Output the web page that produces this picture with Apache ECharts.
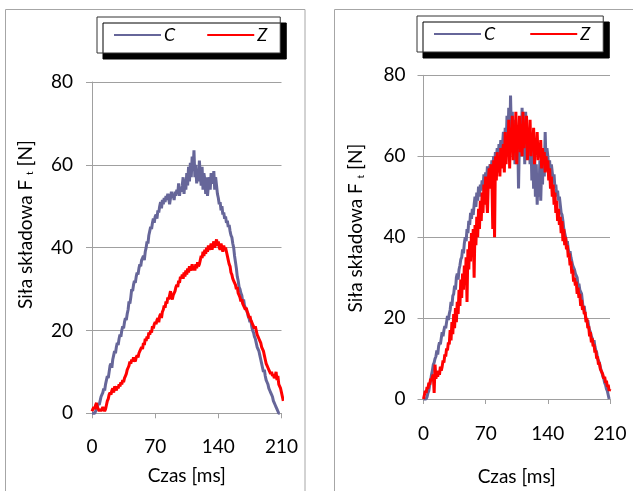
<!DOCTYPE html>
<html>
<head>
<meta charset="utf-8">
<script src="https://cdn.jsdelivr.net/npm/echarts@6/dist/echarts.min.js"></script>
<style>
  html, body { margin: 0; padding: 0; background: #fff; }
  #chart { width: 633px; height: 491px; }
</style>
</head>
<body>
<div id="chart"></div>
<script>
// Sampling interval of the force recordings, in milliseconds
const SAMPLE_STEP_MS = 1;

const seriesNames = ['C', 'Z'];
const xTitle = 'Czas [ms]';

// Left panel: force component F_t [N], one value per millisecond
const leftC = [
  0, 0, 0, 0, 0.5, 1, 1.5, 2.5, 2, 3,
  4, 4.5, 5, 6, 5.5, 7, 8, 9, 8.5, 10,
  11.5, 12, 11, 13, 14, 15, 14.5, 16, 17, 16.5,
  18, 19, 18.5, 20, 21, 20.5, 22, 23, 22.5, 24,
  25, 27, 26.5, 28, 30, 29.5, 31, 32, 31.5, 33,
  34, 33.5, 35, 36, 35.5, 37, 37.5, 38, 37, 39,
  40, 41.5, 41, 43, 44, 45, 44.5, 46, 47, 46,
  47.5, 48, 47, 49, 48.5, 50, 51, 49.5, 51.5, 50.5,
  52, 51, 52.5, 51.5, 53, 52, 50.5, 52, 53.5, 52,
  53, 51.5, 53.5, 52.5, 54, 53, 55.5, 52.5, 54.5, 53.5,
  55, 57, 53, 56.5, 54, 58, 55, 59.5, 56, 60.5,
  57, 62, 58.5, 63.5, 57, 60, 55.5, 59, 56, 61,
  57.5, 55, 59.5, 54, 58, 56.5, 53, 57, 52.5, 55,
  57, 54, 58, 55.5, 56, 58.5, 54, 57, 55, 53,
  52, 50.5, 51, 49, 50, 48, 48.5, 47, 47.5, 46,
  46.5, 45, 45.5, 44, 43, 42.5, 41, 40, 38, 36.5,
  35, 33, 32, 30.5, 30, 29, 28.5, 27, 27.5, 26,
  26, 25, 24.5, 23.5, 23, 22, 22.5, 21, 20, 19.5,
  18.5, 18, 17, 16, 15.5, 15, 14, 13, 12, 11,
  10, 10.5, 9, 8, 7.5, 7, 6, 5.5, 5, 4.5,
  4, 3, 2.5, 2, 1.5, 1, 0.5, 0, 0
];
const leftZ = [
  0.5, 1, 1.5, 1, 2, 2.5, 1.5, 1, 0.5, 1,
  0.5, 1, 1.5, 1, 0.5, 1, 2, 3, 3.5, 4.5,
  5, 4.5, 5.5, 6, 5, 6.5, 6, 5.5, 6.5, 6,
  7, 6.5, 7.5, 7, 8, 7.5, 8.5, 9, 9.5, 10.5,
  11, 11.5, 12.5, 12, 13, 12.5, 13.5, 13, 12.5, 13.5,
  14, 13.5, 14.5, 15, 15.5, 16, 15.5, 17, 16.5, 18,
  17.5, 18.5, 18, 19.5, 19, 20, 19.5, 21, 20.5, 21.5,
  22, 21.5, 22.5, 23, 22, 23.5, 24, 23, 24.5, 25,
  26, 25.5, 27, 26.5, 28, 27.5, 28.5, 29.5, 28, 27.5,
  28.5, 29, 29.5, 30.5, 31, 30.5, 32, 31.5, 33, 32.5,
  33.5, 32.5, 34, 33, 34.5, 33.5, 35, 34, 35.5, 34.5,
  35, 36, 34.5, 35.5, 34.5, 36, 35, 36.5, 35.5, 36,
  37, 38, 37.5, 39, 38, 39.5, 38.5, 40, 39, 40.5,
  39.5, 40, 41, 39.5, 40.5, 41.5, 40, 41, 42, 40.5,
  41.5, 40, 39.5, 41, 40, 39, 40.5, 39.5, 40, 39,
  38, 37, 36, 35.5, 34, 33.5, 32.5, 32, 31.5, 31,
  30, 30.5, 29, 28.5, 28, 27, 27.5, 26.5, 26, 25.5,
  25, 25.5, 24.5, 24, 23, 23.5, 22.5, 22, 21.5, 21,
  20.5, 21, 20, 19, 18.5, 18, 17.5, 17, 16, 15.5,
  15, 14, 13, 12, 11.5, 11, 10.5, 10, 9.5, 10,
  9, 9.5, 8.5, 9, 10, 8, 9, 7, 6.5, 6,
  5, 4, 3
];

// Right panel: force component F_t [N], one value per millisecond
const rightC = [
  0, 0, 0, 0, 0.5, 1.5, 2, 3.5, 4.5, 6,
  7, 8.5, 9, 10, 10.5, 12, 11, 13, 14, 13.5,
  15, 16.5, 15.5, 17, 18, 17.5, 19, 20.5, 19.5, 21,
  22, 24, 23, 25.5, 26, 28, 27, 30, 31, 29.5,
  32, 33, 34.5, 35, 37, 36, 38.5, 40, 39, 42,
  41, 44, 43, 46, 44.5, 47, 45.5, 48, 50, 47.5,
  51, 49, 52.5, 50, 53, 51.5, 54, 52, 55.5, 53,
  56, 54, 57.5, 55, 56.5, 58, 55.5, 59, 57, 60,
  58, 61, 59, 62, 58.5, 63, 60, 64, 61.5, 63,
  66, 60, 67, 62, 70, 64, 72, 60, 75, 65,
  71, 62, 69, 58, 67, 63, 66, 52, 64, 68,
  60, 72, 63, 69, 58, 71, 62, 67, 60, 65,
  58, 64, 54, 60, 52, 62, 50, 58, 48, 55,
  50, 59, 49, 57, 53, 61, 55, 66, 58, 62,
  60, 57, 59, 55, 58, 56, 54, 55.5, 52, 53,
  50, 51.5, 49, 50, 48, 46, 45.5, 44, 42, 41,
  40, 38.5, 39, 37, 36, 36.5, 35, 34, 33, 32.5,
  32, 31, 30.5, 30, 28, 28.5, 27, 26.5, 26, 24,
  22, 23, 21, 20, 19, 19.5, 18, 17, 16.5, 15.5,
  15, 14, 14.5, 13, 12, 11.5, 10, 9.5, 9, 8,
  7, 6.5, 5.5, 5, 4, 3.5, 2.5, 2, 1, 0
];
const rightZ = [
  0, 1, 2, 1.5, 3, 2.5, 4, 3.5, 5, 4.5,
  5.5, 6, 1.5, 8.5, 5, 6.5, 5.5, 7, 6, 8,
  7, 8, 9.5, 9, 11, 10.5, 12.5, 12, 14, 13.5,
  17, 14.5, 19, 16, 21, 17.5, 22.5, 19, 24, 21,
  27, 23, 29.5, 25, 31, 27, 33, 29, 35, 24,
  37, 32, 39, 34, 41, 36, 42, 30, 43, 38,
  45, 40, 47, 42, 49, 44, 51, 46, 53, 48,
  55, 50, 46, 54, 57, 52, 58, 55, 42, 59,
  40, 60, 54, 61, 56, 60, 55, 62, 57, 61,
  63, 56, 66, 58, 64, 60, 69, 57, 67, 61,
  70, 59, 65, 62, 71, 58, 66, 63, 70, 61,
  68, 60, 71, 62, 67, 64, 70, 59, 66, 63,
  69, 60, 65, 62, 67, 58, 64, 61, 66, 59,
  63, 60, 64, 57, 62, 59, 61, 56, 60, 57,
  59, 54, 57, 52, 55, 50, 53, 48, 51, 46,
  49, 44, 47, 43, 45, 41, 44, 39, 42, 38,
  40, 37, 38, 35, 36, 33, 34, 31, 32, 29,
  30, 28, 29, 26, 27.5, 25, 26, 23, 24.5, 22,
  23, 21, 21.5, 19, 20, 17.5, 18, 15.5, 16.5, 14,
  15, 13, 13.5, 11.5, 12, 10, 10.5, 8.5, 9, 7.5,
  7.5, 6.5, 6, 5, 5.5, 4, 4.5, 3, 3.5, 2, 2.5
];

const COLOR_C = '#666699';
const COLOR_Z = '#ff0000';
const GRAY = '#a0a0a0';
const FONT = 'Lato, "Open Sans", sans-serif';
const FONT_SIZE = 19;

// Pair each sample with its time stamp
const toPoints = values => values.map((v, i) => [i * SAMPLE_STEP_MS, v]);

const chart = echarts.init(document.getElementById('chart'), null, { renderer: 'canvas' });

function xAxis(gridIndex, labelMargin, nameGap) {
  return {
    type: 'value', gridIndex, min: 0, max: 210, interval: 70,
    name: xTitle, nameLocation: 'middle', nameGap,
    nameTextStyle: { fontFamily: FONT, fontSize: FONT_SIZE, color: '#000' },
    axisLine: { show: true, lineStyle: { color: GRAY, width: 1 } },
    axisTick: { show: true, length: 5, lineStyle: { color: GRAY } },
    axisLabel: { fontFamily: FONT, fontSize: FONT_SIZE, color: '#000', margin: labelMargin },
    splitLine: { show: false }
  };
}

function yAxis(gridIndex, labelMargin, nameGap, shiftUp) {
  return {
    type: 'value', gridIndex, min: 0, max: 80, interval: 20,
    name: 'Siła składowa F {sub|t} [N]', nameLocation: 'middle', nameGap,
    nameTextStyle: {
      fontFamily: FONT, fontSize: FONT_SIZE, color: '#000',
      padding: [0, 0, 0, shiftUp * 2],
      rich: { sub: { fontFamily: FONT, fontSize: 10, color: '#000', verticalAlign: 'bottom' } }
    },
    axisLine: { show: true, lineStyle: { color: GRAY, width: 1 } },
    axisTick: { show: true, length: 6, lineStyle: { color: GRAY } },
    axisLabel: { fontFamily: FONT, fontSize: FONT_SIZE, color: '#000', margin: labelMargin },
    splitLine: { show: true, lineStyle: { color: GRAY, width: 1 } }
  };
}

function legend(left, top, gap) {
  return {
    left, top, orient: 'horizontal',
    data: seriesNames.map(n => ({ name: n, itemStyle: { opacity: 0 } })),
    itemWidth: 47, itemHeight: 14, itemGap: gap,
    padding: [9, 13, 9, 16],
    backgroundColor: '#fff', borderColor: '#333', borderWidth: 1,
    shadowColor: '#000', shadowBlur: 0, shadowOffsetX: 6, shadowOffsetY: 6,
    textStyle: { fontFamily: FONT, fontSize: 18, fontStyle: 'italic', color: '#000', padding: [0, 0, 0, -2] }
  };
}

function lineSeries(name, color, values, xIdx, yIdx) {
  return {
    name, type: 'line', xAxisIndex: xIdx, yAxisIndex: yIdx,
    data: toPoints(values), showSymbol: false, symbol: 'none',
    clip: false, animation: false,
    lineStyle: { color, width: 3 }, itemStyle: { color }
  };
}

chart.setOption({
  animation: false,
  backgroundColor: '#fff',
  graphic: [
    { type: 'rect', shape: { x: 5.5, y: 9.5, width: 299.5, height: 500 },
      style: { fill: 'none', stroke: '#a6a6a6', lineWidth: 1 }, z: -10 },
    { type: 'rect', shape: { x: 334.5, y: 9.5, width: 320, height: 500 },
      style: { fill: 'none', stroke: '#a6a6a6', lineWidth: 1 }, z: -10 }
  ],
  legend: [legend(97, 17, 31), legend(417, 16, 34)],
  grid: [
    { left: 92, top: 82, width: 189.5, height: 331.3 },
    { left: 423.5, top: 75.3, width: 186.5, height: 324.7 }
  ],
  xAxis: [xAxis(0, 24, 53), xAxis(1, 25, 68)],
  yAxis: [yAxis(0, 19, 57, 23), yAxis(1, 18, 58, 9)],
  series: [
    lineSeries('C', COLOR_C, leftC, 0, 0),
    lineSeries('Z', COLOR_Z, leftZ, 0, 0),
    lineSeries('C', COLOR_C, rightC, 1, 1),
    lineSeries('Z', COLOR_Z, rightZ, 1, 1)
  ]
});
</script>
</body>
</html>
